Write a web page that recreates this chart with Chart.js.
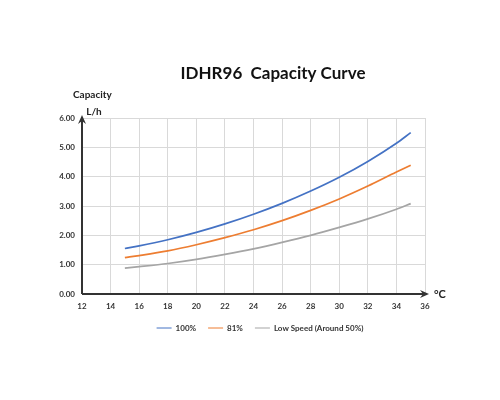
<!DOCTYPE html>
<html>
<head>
<meta charset="utf-8">
<script src="https://cdn.jsdelivr.net/npm/chart.js@4"></script>
<style>
  body { margin: 0; background: #fff; }
  #wrap { width: 500px; height: 400px; }
</style>
</head>
<body>
<div id="wrap"><canvas id="capChart" width="500" height="400"></canvas></div>
<script>
// temperatures (°C) and capacity (L/h)
const temps = [15, 16, 18, 20, 22, 24, 26, 28, 30, 32, 34, 35];
const full = [1.55, 1.64, 1.85, 2.10, 2.39, 2.72, 3.09, 3.51, 3.98, 4.52, 5.14, 5.50];
const eighty = [1.24, 1.31, 1.47, 1.68, 1.92, 2.19, 2.50, 2.85, 3.24, 3.68, 4.16, 4.39];
const lowSpeed = [0.88, 0.93, 1.04, 1.18, 1.35, 1.54, 1.76, 2.00, 2.27, 2.56, 2.89, 3.08];
const seriesNames = ['100%', '81%', 'Low Speed (Around 50%)'];
const seriesColors = ['#4472C4', '#ED7D31', '#A5A5A5'];
const titleText = 'IDHR96  Capacity Curve';

const FONT = 'Lato, "Open Sans", sans-serif';

function toPoints(vals) {
    return temps.map(function (t, i) { return { x: t, y: vals[i] }; });
}

// axis lines with arrow heads, the title and the small unit labels
const axisArrows = {
    id: 'axisArrows',
    afterDraw(chart) {
        const ctx = chart.ctx;
        const a = chart.chartArea;
        ctx.save();
        ctx.strokeStyle = '#333';
        ctx.fillStyle = '#333';
        ctx.lineWidth = 2;
        // y axis
        ctx.beginPath();
        ctx.moveTo(a.left, a.bottom);
        ctx.lineTo(a.left, a.top + 2);
        ctx.stroke();
        ctx.beginPath();
        ctx.moveTo(a.left, a.top - 3);
        ctx.lineTo(a.left - 4, a.top + 6);
        ctx.lineTo(a.left, a.top + 3);
        ctx.lineTo(a.left + 4, a.top + 6);
        ctx.closePath();
        ctx.fill();
        // x axis
        ctx.beginPath();
        ctx.moveTo(a.left, a.bottom);
        ctx.lineTo(a.right - 2, a.bottom);
        ctx.stroke();
        ctx.beginPath();
        ctx.moveTo(a.right + 4, a.bottom);
        ctx.lineTo(a.right - 5, a.bottom - 4);
        ctx.lineTo(a.right - 2, a.bottom);
        ctx.lineTo(a.right - 5, a.bottom + 4);
        ctx.closePath();
        ctx.fill();

        ctx.textBaseline = 'middle';
        ctx.fillStyle = '#111';
        ctx.font = 'bold 17px ' + FONT;
        ctx.textAlign = 'center';
        ctx.fillText(titleText, 273, 74);

        ctx.fillStyle = '#222';
        ctx.font = 'bold 10px ' + FONT;
        ctx.textAlign = 'left';
        ctx.fillText('Capacity', 73, 95);
        ctx.textAlign = 'center';
        ctx.fillText('L/h', 94, 112);
        ctx.font = 'bold 11px ' + FONT;
        ctx.textAlign = 'left';
        ctx.fillText('\u00B0C', 434, a.bottom);
        ctx.restore();
    }
};

new Chart(document.getElementById('capChart'), {
    type: 'line',
    data: {
        datasets: [
            { label: seriesNames[0], data: toPoints(full), borderColor: seriesColors[0], backgroundColor: seriesColors[0] },
            { label: seriesNames[1], data: toPoints(eighty), borderColor: seriesColors[1], backgroundColor: seriesColors[1] },
            { label: seriesNames[2], data: toPoints(lowSpeed), borderColor: seriesColors[2], backgroundColor: seriesColors[2] }
        ]
    },
    options: {
        responsive: false,
        animation: false,
        layout: { padding: { left: 20, right: 0, top: 118, bottom: 58 } },
        elements: {
            point: { radius: 0 },
            line: { borderWidth: 1.7, cubicInterpolationMode: 'monotone' }
        },
        scales: {
            x: {
                type: 'linear',
                min: 12,
                max: 36,
                afterFit(scale) { scale.height = 18; },
                ticks: {
                    stepSize: 2,
                    color: '#333',
                    font: { family: FONT, size: 8, weight: 'bold' },
                    padding: 8
                },
                grid: { color: '#d9d9d9', lineWidth: 1, drawTicks: false },
                border: { display: false }
            },
            y: {
                min: 0,
                max: 6,
                afterFit(scale) { scale.width = 62; },
                ticks: {
                    stepSize: 1,
                    color: '#333',
                    font: { family: FONT, size: 8, weight: 'bold' },
                    padding: 7,
                    callback: function (v) { return v.toFixed(2); }
                },
                grid: { color: '#d9d9d9', lineWidth: 1, drawTicks: false },
                border: { display: false }
            },
            // empty right-hand gutter so the plot ends at 36 °C like the original
            gutter: {
                position: 'right',
                min: 0,
                max: 6,
                afterFit(scale) { scale.width = 75; },
                ticks: { display: false },
                grid: { display: false },
                border: { display: false }
            }
        },
        plugins: {
            title: { display: false },
            legend: {
                position: 'bottom',
                labels: {
                    usePointStyle: true,
                    pointStyle: 'line',
                    pointStyleWidth: 15,
                    color: '#333',
                    font: { family: FONT, size: 8, weight: 'bold' },
                    padding: 12
                }
            },
            tooltip: { enabled: false }
        }
    },
    plugins: [axisArrows]
});
</script>
</body>
</html>
